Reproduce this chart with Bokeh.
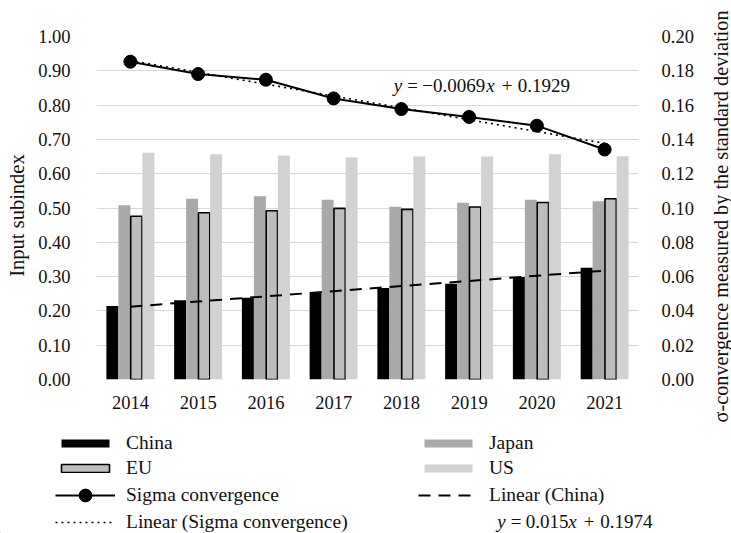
import math
from bokeh.plotting import figure
from bokeh.models import (ColumnDataSource, Range1d, LinearAxis, FixedTicker,
                          Legend, LegendItem, Label, NumeralTickFormatter)
from bokeh.transform import dodge
from bokeh.embed import file_html
from bokeh.resources import INLINE

# ---- data -------------------------------------------------------------
years = [2014, 2015, 2016, 2017, 2018, 2019, 2020, 2021]
year_labels = ["2014", "2015", "2016", "2017", "2018", "2019", "2020", "2021"]
china = [0.214, 0.231, 0.238, 0.254, 0.267, 0.279, 0.299, 0.326]
japan = [0.508, 0.527, 0.534, 0.524, 0.504, 0.515, 0.524, 0.520]
eu = [0.476, 0.486, 0.492, 0.499, 0.496, 0.503, 0.516, 0.527]
us = [0.661, 0.657, 0.653, 0.647, 0.650, 0.650, 0.657, 0.651]
sigma = [0.1853, 0.1781, 0.1748, 0.1639, 0.1577, 0.1531, 0.1480, 0.1341]

# linear trend lines, y = slope * t + intercept with t = 1..8
china_slope, china_intercept = 0.015, 0.1974
sigma_slope, sigma_intercept = -0.0069, 0.1929

left_ticks = [0.0, 0.1, 0.2, 0.3, 0.4, 0.5, 0.6, 0.7, 0.8, 0.9, 1.0]
right_ticks = [0.0, 0.02, 0.04, 0.06, 0.08, 0.10, 0.12, 0.14, 0.16, 0.18, 0.20]

t_index = list(range(1, len(years) + 1))
china_fit = [china_slope * t + china_intercept for t in t_index]
sigma_fit = [sigma_slope * t + sigma_intercept for t in t_index]

# ---- style ------------------------------------------------------------
W, H = 731, 533
FONT = "Liberation Serif"
TXT = "#111111"
GRID = "#d9d9d9"

BAR_STYLES = {
    "China": dict(fill_color="#000000", line_color=None),
    "Japan": dict(fill_color="#a9a9a9", line_color=None),
    "EU": dict(fill_color="#bdbdbd", line_color="black", line_width=1.6),
    "US": dict(fill_color="#d2d2d2", line_color=None),
}
CHINA_FIT_STYLE = dict(line_color="black", line_width=2, line_dash="12 8")
SIGMA_FIT_STYLE = dict(line_color="black", line_width=1.6, line_dash="2 4")
SIGMA_LINE_STYLE = dict(line_color="black", line_width=2)
SIGMA_DOT_STYLE = dict(fill_color="black", line_color="black")

src = ColumnDataSource(dict(year=years, china=china, japan=japan, eu=eu, us=us,
                            sigma=sigma, china_fit=china_fit, sigma_fit=sigma_fit))

# ---- main chart -------------------------------------------------------
p = figure(width=W, height=H, output_backend="svg", toolbar_location=None,
           x_range=Range1d(2013.5, 2021.5), y_range=Range1d(0, 1.0),
           min_border_left=96, min_border_right=93, min_border_top=36,
           min_border_bottom=H - 379)
p.extra_y_ranges = {"sigma": Range1d(0, 0.2)}
p.outline_line_color = None

bw = 0.177
p.vbar(x=dodge("year", -1.5 * bw, range=p.x_range), top="china", width=bw,
       source=src, **BAR_STYLES["China"])
p.vbar(x=dodge("year", -0.5 * bw, range=p.x_range), top="japan", width=bw,
       source=src, **BAR_STYLES["Japan"])
p.vbar(x=dodge("year", 0.5 * bw, range=p.x_range), top="eu", width=bw - 0.01,
       source=src, **BAR_STYLES["EU"])
p.vbar(x=dodge("year", 1.5 * bw, range=p.x_range), top="us", width=bw,
       source=src, **BAR_STYLES["US"])

p.line("year", "china_fit", source=src, **CHINA_FIT_STYLE)
p.line("year", "sigma_fit", source=src, y_range_name="sigma", **SIGMA_FIT_STYLE)
p.line("year", "sigma", source=src, y_range_name="sigma", **SIGMA_LINE_STYLE)
p.scatter("year", "sigma", source=src, size=13, y_range_name="sigma", **SIGMA_DOT_STYLE)

p.xgrid.visible = False
p.ygrid.grid_line_color = GRID
p.ygrid.grid_line_width = 1.2
p.ygrid.ticker = FixedTicker(ticks=left_ticks)

def plain_axis(ax, standoff):
    ax.axis_line_color = None
    ax.major_tick_line_color = None
    ax.minor_tick_line_color = None
    ax.major_label_standoff = standoff
    ax.major_label_text_font = FONT
    ax.major_label_text_font_size = "18.5px"
    ax.major_label_text_color = TXT

xa = p.xaxis[0]
xa.ticker = FixedTicker(ticks=years)
xa.major_label_overrides = {y: s for y, s in zip(years, year_labels)}
plain_axis(xa, 10)

ya = p.yaxis[0]
ya.ticker = FixedTicker(ticks=left_ticks)
ya.formatter = NumeralTickFormatter(format="0.00")
plain_axis(ya, 20)

ra = LinearAxis(y_range_name="sigma", ticker=FixedTicker(ticks=right_ticks),
                formatter=NumeralTickFormatter(format="0.00"))
plain_axis(ra, 17)
p.add_layout(ra, "right")

# ---- overlay: legend, equations, axis titles ---------------------------
# its frame covers the whole page, so one unit is one pixel (origin bottom-left)
ov = figure(width=W, height=H, output_backend="svg", toolbar_location=None,
            x_range=Range1d(0, W), y_range=Range1d(0, H),
            x_axis_type=None, y_axis_type=None, min_border=0)
ov.outline_line_color = None
ov.grid.visible = False
ov.background_fill_alpha = 0
ov.border_fill_alpha = 0

def txt(x, y, text, size="19px", italic=False, angle=0.0,
        align="left", baseline="middle"):
    ov.add_layout(Label(x=x, y=H - y, text=text, text_font=FONT,
                        text_font_size=size, angle=angle,
                        text_font_style="italic" if italic else "normal",
                        text_color=TXT, text_baseline=baseline,
                        text_align=align))

def equation(parts, x0, y0):
    for text, italic, dx in parts:
        txt(x0 + dx, y0, text, italic=italic)

equation([("y", True, 0), ("=", False, 13.5), ("−0.0069", False, 28.5),
          ("x", True, 92.5), ("+", False, 108), ("0.1929", False, 124)],
         393.3, 84.5)

equation([("y", True, 0), ("=", False, 13.5), ("0.015", False, 28.5),
          ("x", True, 71), ("+", False, 86.5), ("0.1974", False, 103)],
         496.7, 520.5)

txt(16, 215, "Input subindex", size="20.5px", angle=math.pi / 2, align="center")
txt(720, 216, "σ-convergence measured by the standard deviation", size="20.3px",
    angle=math.pi / 2, align="center")

# legend keys: one off-page sample each, styled like the chart's marks
off = ColumnDataSource(dict(x=[-100, -90], y=[-100, -100]))
k_china = ov.vbar(x="x", top="y", width=1, source=off, **BAR_STYLES["China"])
k_japan = ov.vbar(x="x", top="y", width=1, source=off, **BAR_STYLES["Japan"])
k_eu = ov.vbar(x="x", top="y", width=1, source=off, **BAR_STYLES["EU"])
k_us = ov.vbar(x="x", top="y", width=1, source=off, **BAR_STYLES["US"])
k_sline = ov.line("x", "y", source=off, **SIGMA_LINE_STYLE)
k_sdot = ov.scatter("x", "y", source=off, size=13, **SIGMA_DOT_STYLE)
k_sfit = ov.line("x", "y", source=off, **SIGMA_FIT_STYLE)
k_cfit = ov.line("x", "y", source=off, **CHINA_FIT_STYLE)

def legend_row(renderers, label, px, py, glyph_h=10, box_h=22):
    # px: left edge of the key, py: vertical centre of the row (page pixels)
    lg = Legend(items=[LegendItem(label=label, renderers=renderers)],
                location=(px, H - (py + box_h / 2)),
                glyph_width=60, glyph_height=glyph_h, label_height=box_h,
                label_standoff=11, padding=0, margin=0, spacing=0,
                border_line_color=None, background_fill_alpha=0,
                label_text_font=FONT, label_text_font_size="19.5px",
                label_text_color=TXT, label_text_baseline="middle")
    ov.add_layout(lg)

legend_row([k_china], "China", 55, 442.7)
legend_row([k_eu], "EU", 55, 468.3)
legend_row([k_sline, k_sdot], "Sigma convergence", 55, 495, glyph_h=32, box_h=32)
legend_row([k_sfit], "Linear (Sigma convergence)", 55, 521.7)
legend_row([k_japan], "Japan", 418, 443)
legend_row([k_us], "US", 418, 468)
legend_row([k_cfit], "Linear (China)", 418, 495)

# both roots share the same page box, the overlay on top
PAGE = """
{% from macros import embed %}
{% block contents %}
<div style="position: relative; width: 731px; height: 533px;">
  <div style="position: absolute; left: 0; top: 0;">{{ embed(roots[0]) }}</div>
  <div style="position: absolute; left: 0; top: 0;">{{ embed(roots[1]) }}</div>
</div>
{% endblock %}
"""

open("out.html", "w").write(file_html([p, ov], INLINE, template=PAGE))
